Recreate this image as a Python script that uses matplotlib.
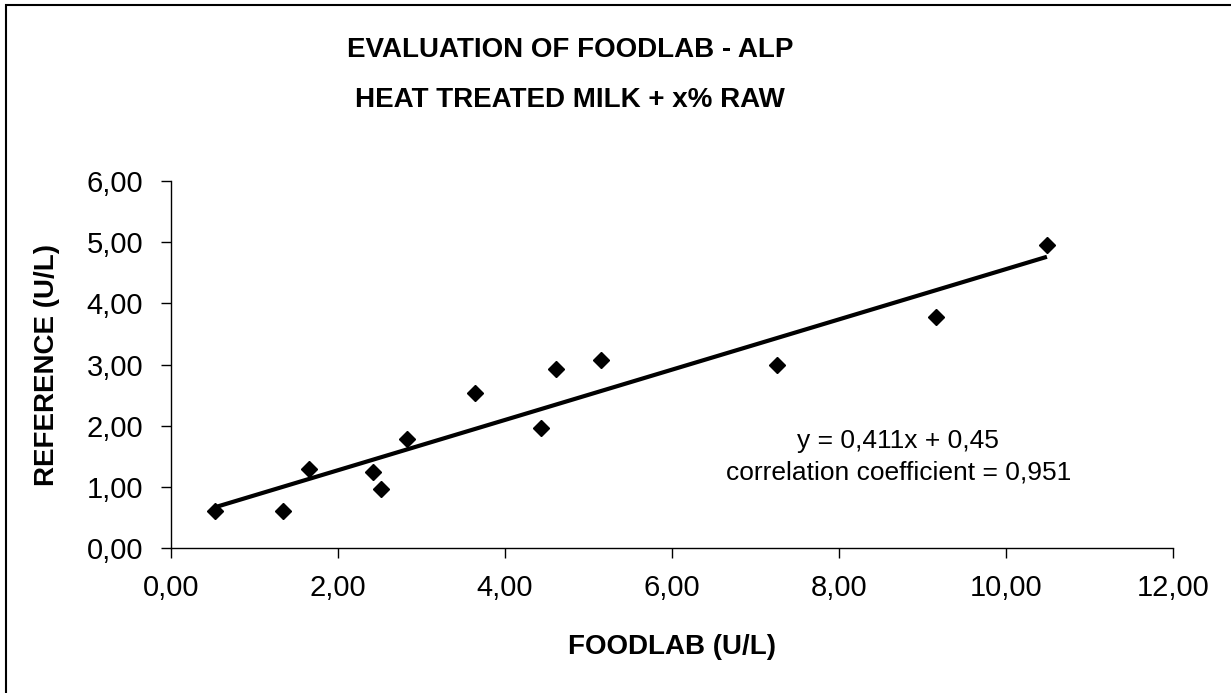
import numpy as np
import matplotlib
matplotlib.use('Agg')
import matplotlib.pyplot as plt
from matplotlib.patches import Rectangle
from matplotlib.ticker import FuncFormatter

plt.rcParams['font.family'] = ['Liberation Sans', 'DejaVu Sans']

# data
foodlab = [0.53, 1.34, 1.65, 2.42, 2.51, 2.83, 3.64, 4.43, 4.61, 5.15, 7.26, 9.16, 10.49]
reference = [0.60, 0.60, 1.30, 1.24, 0.96, 1.79, 2.54, 1.96, 2.92, 3.08, 3.00, 3.78, 4.96]
slope = 0.411
intercept = 0.45
corr = 0.951

x_ticks = [0, 2, 4, 6, 8, 10, 12]
y_ticks = [0, 1, 2, 3, 4, 5, 6]


def comma(v, nd):
    return ('%.*f' % (nd, v)).replace('.', ',')


fig = plt.figure(figsize=(12.31, 6.93), dpi=100)
ax = fig.add_axes([0.1389, 0.2092, 0.8140, 0.5296])

# trend line across the data range
xl = np.array([min(foodlab), max(foodlab)])
ax.plot(xl, slope * xl + intercept, color='black', lw=3, solid_capstyle='butt', zorder=2)
ax.plot(foodlab, reference, ls='', marker='D', ms=8, color='black', zorder=3)

ax.set_xlim(0, 12)
ax.set_ylim(0, 6)
ax.set_xticks(x_ticks)
ax.set_yticks(y_ticks)
fmt = FuncFormatter(lambda v, p: comma(v, 2))
ax.xaxis.set_major_formatter(fmt)
ax.yaxis.set_major_formatter(fmt)
ax.tick_params(direction='out', length=7, width=1, labelsize=21, colors='black')
ax.tick_params(axis='y', pad=13)
ax.tick_params(axis='x', pad=12)
for s in ['top', 'right']:
    ax.spines[s].set_visible(False)
for s in ['left', 'bottom']:
    ax.spines[s].set_linewidth(1)

ax.set_xlabel('FOODLAB (U/L)', fontsize=20, fontweight='bold', va='center')
ax.set_ylabel('REFERENCE (U/L)', fontsize=20, fontweight='bold', va='center')
ax.xaxis.set_label_coords(0.5, -0.271)
ax.yaxis.set_label_coords(-0.1238, 0.5)

label = 'y = %sx + %s\ncorrelation coefficient = %s' % (
    comma(slope, 3), comma(intercept, 2), comma(corr, 3))
ax.text(8.71, 1.49, label, ha='center', va='center', fontsize=19, linespacing=1.4)

fig.text(0.463, 1 - 50 / 693, 'EVALUATION OF FOODLAB - ALP', ha='center', va='center',
         fontsize=20, fontweight='bold')
fig.text(0.463, 1 - 100 / 693, 'HEAT TREATED MILK + x% RAW', ha='center', va='center',
         fontsize=20, fontweight='bold')

# chart frame
fig.patches.append(Rectangle((6 / 1231, -0.05), 1.1, 1 - 5 / 693 + 0.05,
                             transform=fig.transFigure, fill=False, lw=1.5, ec='black'))

fig.savefig('out.png', dpi=100)
